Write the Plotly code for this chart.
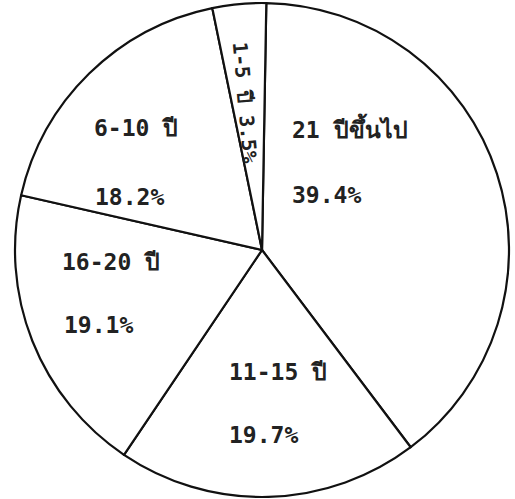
import plotly.graph_objects as go

# years of service groups (clockwise from 12 o'clock)
labels = ["21 ปีขึ้นไป", "11-15 ปี", "16-20 ปี", "6-10 ปี", "1-5 ปี"]
values = [39.4, 19.7, 19.1, 18.2, 3.5]

W, H = 515, 499
FONT = "DejaVu Sans Mono, Noto Sans, sans-serif"

fig = go.Figure(go.Pie(
    labels=labels, values=values, sort=False, direction="clockwise",
    rotation=1, textinfo="none", hoverinfo="label+percent",
    marker=dict(colors=["white"] * len(values), line=dict(color="#111", width=2.2)),
    domain=dict(x=[12 / W, 512 / W], y=[1 - 497 / H, 1 - 3 / H]),
    showlegend=False,
))

# label placement (pixel positions, left edge / vertical middle)
label_pos = [(290, 128), (227, 372), (60, 262), (92, 128)]
pct_pos = [(290, 195), (227, 435), (62, 325), (93, 197)]

annotations = []
for lab, val, lp, pp in zip(labels[:4], values[:4], label_pos, pct_pos):
    for txt, (px, py) in [(lab, lp), (f"{val}%", pp)]:
        annotations.append(dict(
            text=txt, x=px / W, y=1 - py / H, xref="paper", yref="paper",
            xanchor="left", yanchor="middle", showarrow=False,
            font=dict(family=FONT, size=23, color="#222", weight="bold"),
        ))

# narrow slice: text runs down along the wedge
annotations.append(dict(
    text=f"{labels[4]} {values[4]}%", x=245 / W, y=1 - 102 / H,
    xref="paper", yref="paper", showarrow=False, textangle=85,
    xanchor="center", yanchor="middle",
    font=dict(family=FONT, size=20, color="#222", weight="bold"),
))

fig.update_layout(
    width=W, height=H, margin=dict(l=0, r=0, t=0, b=0),
    paper_bgcolor="white", plot_bgcolor="white",
    annotations=annotations,
)

fig.write_html("out.html", config={"displayModeBar": False},
               post_script="document.body.style.margin='0';")
